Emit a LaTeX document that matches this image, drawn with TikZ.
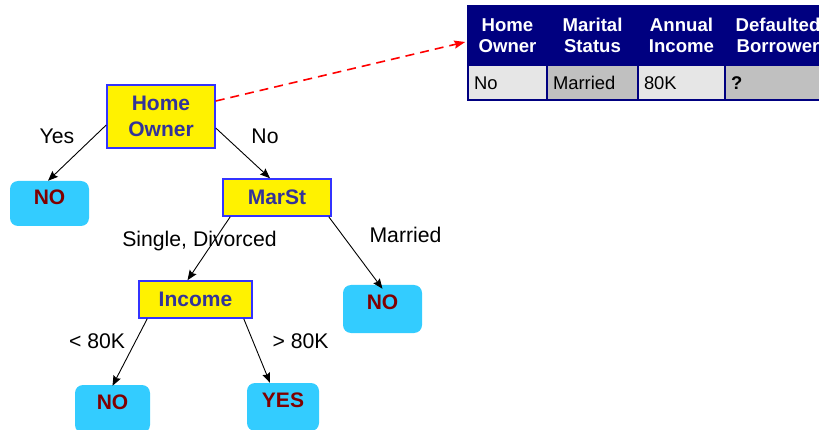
\documentclass[tikz,border=0pt]{standalone}
\usepackage{fontspec}
\setmainfont{Liberation Sans}
\usetikzlibrary{arrows.meta}
\definecolor{boxblue}{RGB}{51,51,255}
\definecolor{boxtext}{RGB}{51,51,153}
\definecolor{leaffill}{RGB}{51,204,255}
\definecolor{leaftext}{RGB}{128,0,0}
\definecolor{navy}{RGB}{0,0,128}
\definecolor{celllight}{RGB}{230,230,230}
\definecolor{celldark}{RGB}{192,192,192}
\tikzset{
  decision/.style={draw=boxblue, line width=1.5pt, fill=yellow, text=boxtext,
    font=\fontsize{21}{26}\selectfont\bfseries, align=center, inner sep=0pt},
  leaf/.style={fill=leaffill, rounded corners=8pt, text=leaftext,
    font=\fontsize{21}{26}\selectfont\bfseries, inner sep=0pt, text depth=13pt},
  edgelabel/.style={font=\fontsize{21.2}{25}\selectfont, anchor=base, inner sep=0pt},
  treearrow/.style={draw=black, line width=0.9pt, -{Stealth[length=10pt,width=8pt,inset=1.5pt]}},
  headcell/.style={draw=navy, line width=1.5pt, fill=navy, text=white,
    font=\fontsize{18.6}{21}\selectfont\bfseries, align=center, inner sep=0pt, minimum height=59pt},
  rowcell/.style={draw=navy, line width=1.5pt, font=\fontsize{18.4}{21}\selectfont,
    text height=13.2pt, text depth=0pt,
    inner xsep=6pt, inner ysep=0pt, minimum height=35pt, anchor=center},
}
\begin{document}
\begin{tikzpicture}[x=1pt,y=-1pt]
\useasboundingbox (0,0) rectangle (819,430);
\clip (0,0) rectangle (819,430);
% tree nodes
\node[decision, minimum width=108pt, minimum height=63pt] (ho) at (161,116.5) {Home\\Owner};
\node[decision, minimum width=108pt, minimum height=37pt] (ms) at (277,197.5) {MarSt};
\node[decision, minimum width=113pt, minimum height=37pt] (inc) at (195.5,299.5) {Income};
\node[leaf, minimum width=79pt, minimum height=45pt] (no1) at (49.5,203.5) {NO};
\node[leaf, minimum width=79pt, minimum height=48pt] (no2) at (382.5,309) {NO};
\node[leaf, minimum width=75pt, minimum height=48pt] (no3) at (112.5,409) {NO};
\node[leaf, minimum width=72pt, minimum height=48pt] (yes) at (283,407) {YES};
% edge labels
\node[edgelabel] (lyes) at (57,144) {Yes};
\node[edgelabel] (lno) at (265,144) {No};
\node[edgelabel] (lsd) at (199.5,247) {Single, Divorced};
\node[edgelabel] (lmar) at (405.5,243) {Married};
\node[edgelabel] (llt) at (97,348) {< 80K};
\node[edgelabel] (lgt) at (300.5,348) {> 80K};
% connectors
\draw[treearrow] ([yshift=-8.5pt]ho.west) -- ([xshift=-1.5pt]no1.north);
\draw[treearrow] ([yshift=-11.5pt]ho.east) -- ([xshift=-7pt]ms.north);
\draw[treearrow] ([xshift=8pt]ms.south west) -- ([xshift=-8pt]inc.north);
\draw[treearrow] ([xshift=-3pt]ms.south east) -- ([yshift=-4pt]no2.north);
\draw[treearrow] ([xshift=9pt]inc.south west) -- ([yshift=-1pt]no3.north);
\draw[treearrow] ([xshift=-9pt]inc.south east) -- ([xshift=-13pt]yes.north);
% table
\node[headcell, minimum width=79pt] (h1) at (507.5,35.5) {Home\\Owner};
\node[headcell, minimum width=91pt] (h2) at (592.5,35.5) {Marital\\Status};
\node[headcell, minimum width=87pt] (h3) at (681.5,35.5) {Annual\\Income};
\node[headcell, minimum width=106pt] (h4) at (778,35.5) {Defaulted\\Borrower};
\node[rowcell, fill=celllight, text width=67pt] (r1) at (507.5,82.5) {No};
\node[rowcell, fill=celldark, text width=79pt] (r2) at (592.5,82.5) {Married};
\node[rowcell, fill=celllight, text width=75pt] (r3) at (681.5,82.5) {80K};
\node[rowcell, fill=celldark, text width=94pt] (r4) at (778,82.5) {\textbf{?}};
% query arrow
\draw[red, line width=1.6pt, dash pattern=on 9pt off 6pt,
  -{Stealth[length=11pt,width=8pt,inset=1.5pt]}]
  ([yshift=15.5pt]ho.east) -- ([yshift=-6.5pt, xshift=-2pt]h1.west);
\end{tikzpicture}
\end{document}
